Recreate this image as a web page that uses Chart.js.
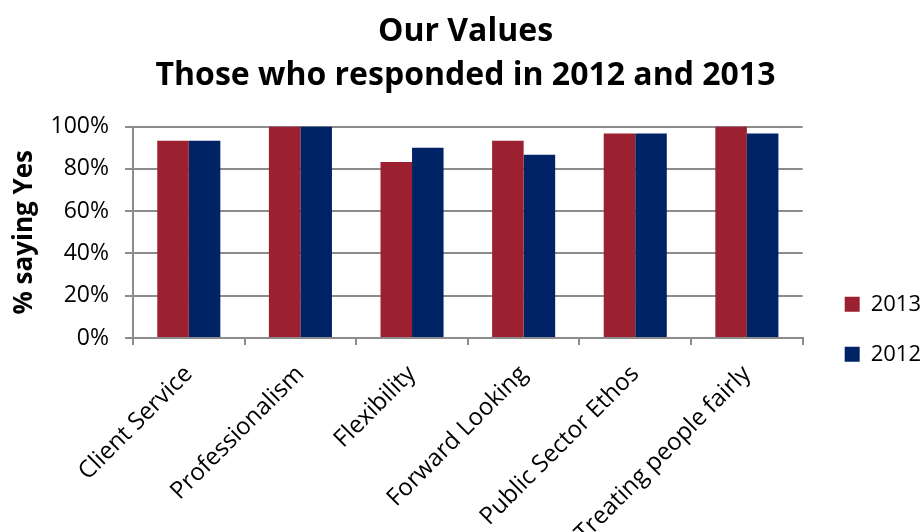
<!DOCTYPE html>
<html>
<head>
<meta charset="utf-8">
<script src="https://cdn.jsdelivr.net/npm/chart.js@4"></script>
<style>
  body { margin: 0; background: #fff; }
  #wrap { width: 922px; height: 532px; }
</style>
</head>
<body>
<div id="wrap"><canvas id="myChart"></canvas></div>
<script>
const categories = ['Client Service', 'Professionalism', 'Flexibility', 'Forward Looking', 'Public Sector Ethos', 'Treating people fairly'];
const values2013 = [93.3, 100, 83.3, 93.3, 96.7, 100];
const values2012 = [93.3, 100, 90, 86.7, 96.7, 96.7];
const yTicks = [0, 20, 40, 60, 80, 100];

const font = "'Open Sans', sans-serif";
const gridGrey = '#8c8c8c';

// legend sits closer to the right edge than chart.js leaves by default
const LegendEl = Chart.registry.getPlugin('legend')._element;
const legendFit = LegendEl.prototype.fit;
LegendEl.prototype.fit = function () {
  legendFit.call(this);
  if (!this.isHorizontal()) this.width -= 9;
};

// centre the legend on the plot + label area, not the whole canvas
const legendTop = {
  id: 'legendTop',
  afterLayout(chart) {
    chart.legend.top = chart.chartArea.top;
  }
};

var ctx = document.getElementById('myChart').getContext('2d');
var myChart = new Chart(ctx, {
  type: 'bar',
  data: {
    labels: categories,
    datasets: [{
      label: '2013',
      data: values2013,
      backgroundColor: '#9b2030',
      borderWidth: 0
    }, {
      label: '2012',
      data: values2012,
      backgroundColor: '#002366',
      borderWidth: 0
    }]
  },
  plugins: [legendTop],
  options: {
    responsive: true,
    maintainAspectRatio: false,
    animation: false,
    datasets: {
      bar: { categoryPercentage: 0.565, barPercentage: 1 }
    },
    layout: { padding: { top: 9, right: 0, left: 9, bottom: 0 } },
    plugins: {
      title: {
        display: true,
        text: ['Our Values', 'Those who responded in 2012 and 2013'],
        font: { family: font, size: 32, weight: 'bold', lineHeight: 1.4 },
        color: '#000',
        padding: { top: 0, bottom: 28 }
      },
      legend: {
        position: 'right',
        align: 'center',
        labels: {
          font: { family: font, size: 22 },
          color: '#000',
          boxWidth: 15,
          boxHeight: 15,
          padding: 28
        }
      },
      tooltip: { enabled: false }
    },
    scales: {
      x: {
        afterFit: axis => { axis.height = 194; },
        grid: {
          display: true,
          drawOnChartArea: false,
          offset: true,
          color: gridGrey,
          tickLength: 7,
          lineWidth: 2
        },
        border: { color: gridGrey, width: 2 },
        ticks: {
          font: { family: font, size: 24 },
          color: '#000',
          minRotation: 45,
          maxRotation: 45,
          autoSkip: false,
          padding: 15
        }
      },
      y: {
        min: 0,
        max: 100,
        afterBuildTicks: axis => { axis.ticks = yTicks.map(v => ({ value: v })); },
        afterFit: axis => { axis.width = 124; },
        grid: { color: gridGrey, lineWidth: 2, tickLength: 8 },
        border: { color: gridGrey, width: 2 },
        ticks: {
          font: { family: font, size: 23 },
          color: '#000',
          padding: 16,
          callback: v => v + '%'
        },
        title: {
          display: true,
          text: '% saying Yes',
          font: { family: font, size: 26, weight: 'bold' },
          color: '#000',
          padding: { top: 0, bottom: 0 }
        }
      },
      // empty spacer between plot and legend
      gap: {
        type: 'linear',
        position: 'right',
        display: true,
        afterFit: axis => { axis.width = 14; },
        grid: { display: false },
        border: { display: false },
        ticks: { display: false }
      }
    }
  }
});
</script>
</body>
</html>
